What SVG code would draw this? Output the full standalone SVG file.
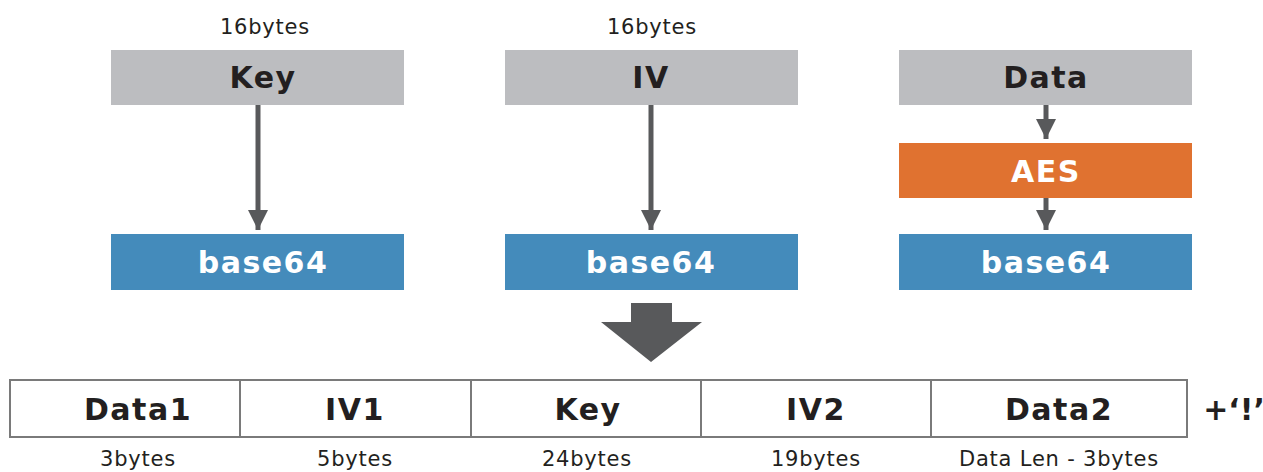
<svg xmlns="http://www.w3.org/2000/svg" width="1263" height="472" viewBox="0 0 1263 472">
<defs>
<style>
.grey{fill:#bcbdc0}
.blue{fill:#448bbb}
.orange{fill:#e07230}
.lbl{font-family:"DejaVu Sans",Verdana,sans-serif;font-weight:bold;font-size:30px;letter-spacing:1.5px;text-anchor:middle}
.dark{fill:#231f20}
.white{fill:#ffffff}
.small{font-family:"DejaVu Sans",Verdana,sans-serif;font-size:21px;letter-spacing:0.8px;fill:#231f20;text-anchor:middle}
.conn{stroke:#58595b;stroke-width:5;fill:none}
.cell{fill:#ffffff;stroke:#7a7a7a;stroke-width:2}
</style>
<marker id="ah" viewBox="0 0 10 10" refX="10" refY="5" markerWidth="4.6" markerHeight="4" orient="auto" markerUnits="strokeWidth">
<path d="M0,0 L10,5 L0,10 Z" fill="#58595b"/>
</marker>
</defs>
<text class="small" x="265" y="34">16bytes</text>
<text class="small" x="652" y="34">16bytes</text>
<g id="key">
<rect class="grey" x="111" y="50" width="293" height="55"/>
<text class="lbl dark" x="263" y="88">Key</text>
</g>
<g id="iv">
<rect class="grey" x="505" y="50" width="293" height="55"/>
<text class="lbl dark" x="651" y="88">IV</text>
</g>
<g id="data">
<rect class="grey" x="899" y="50" width="293" height="55"/>
<text class="lbl dark" x="1046" y="88">Data</text>
</g>
<g id="aes">
<rect class="orange" x="899" y="143" width="293" height="55"/>
<text class="lbl white" x="1046" y="182">AES</text>
</g>
<g id="b64key">
<rect class="blue" x="111" y="234" width="293" height="56"/>
<text class="lbl white" x="263" y="273">base64</text>
</g>
<g id="b64iv">
<rect class="blue" x="505" y="234" width="293" height="56"/>
<text class="lbl white" x="651" y="273">base64</text>
</g>
<g id="b64data">
<rect class="blue" x="899" y="234" width="293" height="56"/>
<text class="lbl white" x="1046" y="273">base64</text>
</g>
<g id="connectors">
<line class="conn" x1="258" y1="105" x2="258" y2="230" marker-end="url(#ah)"/>
<line class="conn" x1="651" y1="105" x2="651" y2="230" marker-end="url(#ah)"/>
<line class="conn" x1="1046" y1="105" x2="1046" y2="139" marker-end="url(#ah)"/>
<line class="conn" x1="1046" y1="198" x2="1046" y2="230" marker-end="url(#ah)"/>
<polygon points="631,303 672,303 672,322 702,322 651,362 601,322 631,322" fill="#58595b"/>
</g>
<g id="result">
<rect class="cell" x="10" y="380" width="230" height="57"/>
<rect class="cell" x="240" y="380" width="231" height="57"/>
<rect class="cell" x="471" y="380" width="230" height="57"/>
<rect class="cell" x="701" y="380" width="230" height="57"/>
<rect class="cell" x="931" y="380" width="256" height="57"/>
<text class="lbl dark" x="138" y="420">Data1</text>
<text class="lbl dark" x="355" y="420">IV1</text>
<text class="lbl dark" x="588" y="420">Key</text>
<text class="lbl dark" x="816" y="420">IV2</text>
<text class="lbl dark" x="1059" y="420">Data2</text>
<text class="lbl dark" x="1234" y="420" style="letter-spacing:0">+‘!’</text>
</g>
<text class="small" x="138" y="466">3bytes</text>
<text class="small" x="355" y="466">5bytes</text>
<text class="small" x="587" y="466">24bytes</text>
<text class="small" x="816" y="466">19bytes</text>
<text class="small" x="1059" y="466">Data Len - 3bytes</text>
</svg>
